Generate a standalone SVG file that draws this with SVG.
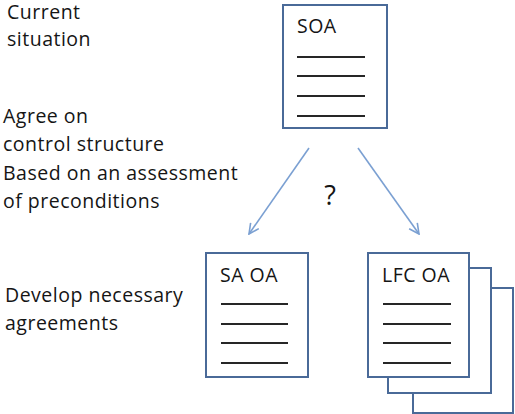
<svg xmlns="http://www.w3.org/2000/svg" width="515" height="414" viewBox="0 0 515 414">
<defs>
<style>
.t{font-family:"Open Sans","Liberation Sans",sans-serif;font-size:19.5px;fill:#151515;letter-spacing:0.5px}
.page{fill:#fff;stroke:#4A6A98;stroke-width:2}
.ln{stroke:#262626;stroke-width:2}
.arr{stroke:#7BA0D2;stroke-width:1.6;fill:none;marker-end:url(#ah)}
</style>
<marker id="ah" viewBox="0 0 12 12" refX="11" refY="6" markerWidth="12" markerHeight="12" markerUnits="userSpaceOnUse" orient="auto">
<path d="M1,1 L11,6 L1,11" fill="none" stroke="#7BA0D2" stroke-width="1.6"/>
</marker>
</defs>
<rect width="515" height="414" fill="#fff"/>
<g id="labels">
<text class="t" x="7" y="18.5">Current</text>
<text class="t" x="7" y="46">situation</text>
<text class="t" x="3" y="123">Agree on</text>
<text class="t" x="3" y="151">control structure</text>
<text class="t" x="3" y="180">Based on an assessment</text>
<text class="t" x="3" y="208">of preconditions</text>
<text class="t" x="5" y="302">Develop necessary</text>
<text class="t" x="5" y="330">agreements</text>
</g>
<g id="connectors">
<line class="arr" x1="309" y1="148" x2="249" y2="234"/>
<line class="arr" x1="358" y1="148" x2="419" y2="234"/>
<text x="330" y="205" text-anchor="middle" style="font-family:'Open Sans','Liberation Sans',sans-serif;font-size:27px;fill:#151515">?</text>
</g>
<g id="soa">
<rect class="page" x="283" y="5" width="104" height="123"/>
<text class="t" x="297" y="33">SOA</text>
<line class="ln" x1="297" y1="57" x2="365" y2="57"/>
<line class="ln" x1="297" y1="76" x2="365" y2="76"/>
<line class="ln" x1="297" y1="96" x2="365" y2="96"/>
<line class="ln" x1="297" y1="116" x2="365" y2="116"/>
</g>
<g id="sa-oa">
<rect class="page" x="206" y="253" width="102" height="124"/>
<text class="t" x="220" y="282">SA OA</text>
<line class="ln" x1="221" y1="304" x2="288" y2="304"/>
<line class="ln" x1="221" y1="324" x2="288" y2="324"/>
<line class="ln" x1="221" y1="343" x2="288" y2="343"/>
<line class="ln" x1="221" y1="363" x2="288" y2="363"/>
</g>
<g id="lfc-oa">
<rect class="page" x="413" y="288" width="100" height="125"/>
<rect class="page" x="388" y="268" width="103" height="125"/>
<rect class="page" x="368" y="253" width="101" height="124"/>
<text class="t" x="382" y="282">LFC OA</text>
<line class="ln" x1="383" y1="304" x2="451" y2="304"/>
<line class="ln" x1="383" y1="324" x2="451" y2="324"/>
<line class="ln" x1="383" y1="343" x2="451" y2="343"/>
<line class="ln" x1="383" y1="363" x2="451" y2="363"/>
</g>
</svg>
